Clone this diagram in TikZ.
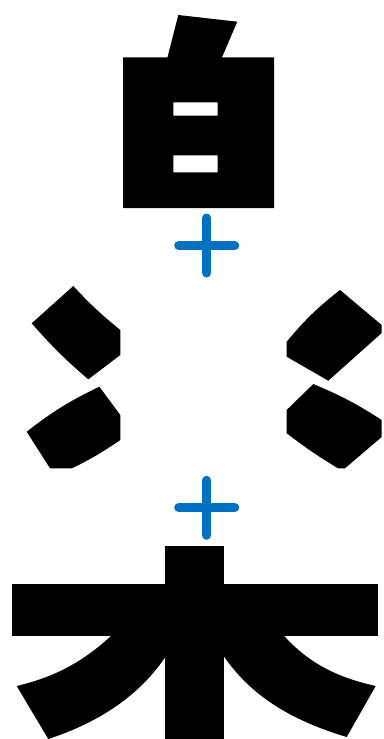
\documentclass[tikz,border=0pt]{standalone}
\definecolor{plusblue}{HTML}{0070C0}
\begin{document}
\begin{tikzpicture}[
  x=1pt, y=-1pt,
  glyph/.style={fill=black},
  plus/.style={draw=plusblue, line width=9pt, line cap=round}
]
  \useasboundingbox (0,0) rectangle (383,739);

  % top component
  \fill[glyph, even odd rule] (123,57.3) rectangle (274,208)
    (173.3,102.3) rectangle (217.7,115.7)
    (173.3,155.3) rectangle (217.7,172.3);
  \fill[glyph] (178.3,15) -- (237.3,21.7) -- (221.7,58) -- (167.3,58) -- cycle;

  % plus signs
  \coordinate (plusA) at (206.7,245.5);
  \coordinate (plusB) at (206.7,507.8);
  \foreach \p in {plusA,plusB} {
    \draw[plus] (\p) ++(-28,0) -- ++(56,0);
    \draw[plus] (\p) ++(0,-27.5) -- ++(0,55);
  }

  % middle component: side dots
  \fill[glyph] (73.3,286) to[bend right=4] (120.3,330) -- (120.3,355)
    -- (88.3,379.3) to[bend left=4] (31.7,323.3) -- cycle;
  \fill[glyph] (99.3,386.7) to[bend right=6] (26.7,431.7) -- (50,468.3)
    -- (72,468.3) to[bend right=4] (120.3,440) -- (120.3,415) -- cycle;
  \fill[glyph] (340,290) -- (381.7,325) -- (381.7,333) -- (328.3,380.7)
    -- (286.7,356.7) -- (286.7,341.7) to[bend left=6] cycle;
  \fill[glyph] (313.3,384) to[bend left=5] (381.7,420) -- (381.7,437)
    -- (345,468.3) -- (338,468.3) to[bend left=3] (286.7,433.3)
    -- (286.7,410) -- cycle;

  % bottom component
  \fill[glyph] (165,546) rectangle (224,739);
  \fill[glyph] (12.3,584) rectangle (377.7,635.7);
  \fill[glyph] (112,635) .. controls (80,665) and (50,678) .. (16.7,686)
    -- (48.3,739) .. controls (100,722) and (140,695) .. (166,656)
    -- (166,635) -- cycle;
  \fill[glyph] (283.3,635) .. controls (310,665) and (340,678) .. (375.7,686)
    -- (346.7,737) .. controls (290,720) and (250,695) .. (223,655)
    -- (223,635) -- cycle;
\end{tikzpicture}
\end{document}
